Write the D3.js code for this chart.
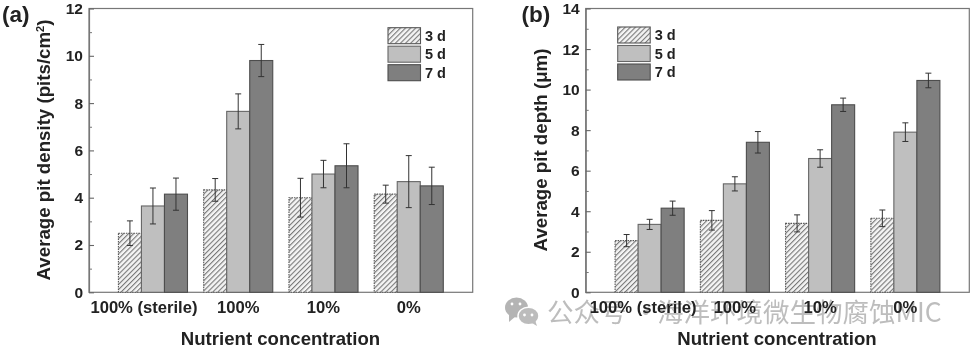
<!DOCTYPE html>
<html>
<head>
<meta charset="utf-8">
<script src="https://cdn.jsdelivr.net/npm/d3@7"></script>
<style>
  html, body { margin: 0; padding: 0; background: #fff; }
  text { font-family: "Liberation Sans", Arial, sans-serif; font-weight: bold; fill: #222; }
</style>
</head>
<body>
<div id="chart"></div>
<script>
// shared categories and series
var categories = ["100% (sterile)", "100%", "10%", "0%"];
var days       = ["3 d", "5 d", "7 d"];

// panel (a) pit density
var density3d    = [2.5, 4.33, 4.0, 4.15];
var density5d    = [3.65, 7.65, 5.0, 4.68];
var density7d    = [4.15, 9.8, 5.35, 4.5];
var densityErr3d = [0.52, 0.48, 0.82, 0.38];
var densityErr5d = [0.76, 0.74, 0.58, 1.1];
var densityErr7d = [0.68, 0.68, 0.93, 0.79];

// panel (b) pit depth
var depth3d    = [2.55, 3.55, 3.4, 3.65];
var depth5d    = [3.35, 5.35, 6.6, 7.9];
var depth7d    = [4.15, 7.4, 9.25, 10.45];
var depthErr3d = [0.3, 0.48, 0.42, 0.41];
var depthErr5d = [0.25, 0.35, 0.43, 0.46];
var depthErr7d = [0.35, 0.53, 0.33, 0.36];

var svgWidth  = 974;
var svgHeight = 350;

var svg = d3.select("#chart")
  .append("svg")
  .attr("width", svgWidth)
  .attr("height", svgHeight)
  .style("display", "block");

var defs = svg.append("defs");

// diagonal hatch for the 3 d bars
var hatch = defs.append("pattern")
  .attr("id", "hatch")
  .attr("width", 3.6)
  .attr("height", 3.6)
  .attr("patternUnits", "userSpaceOnUse")
  .attr("patternTransform", "rotate(45)");
hatch.append("rect").attr("width", 3.6).attr("height", 3.6).attr("fill", "#f4f4f4");
hatch.append("line")
  .attr("x1", 0).attr("y1", 0).attr("x2", 0).attr("y2", 3.6)
  .attr("stroke", "#777").attr("stroke-width", 2.2);

// the reference is a slightly soft scan
defs.append("filter").attr("id", "soft")
  .append("feGaussianBlur").attr("stdDeviation", 0.45);

var fills   = ["url(#hatch)", "#bfbfbf", "#7f7f7f"];
var strokes = ["#555", "#666", "#4d4d4d"];

// watermark goes under the panels, the labels sit on top of it
var mark = svg.append("g").attr("filter", "url(#soft)");
mark.append("ellipse").attr("cx", 516.5).attr("cy", 307.5).attr("rx", 11.5).attr("ry", 10).attr("fill", "#b4b4b4");
mark.append("path").attr("d", "M509 314 L509 322 L516 316 Z").attr("fill", "#b4b4b4");
mark.append("ellipse").attr("cx", 528.5).attr("cy", 316).attr("rx", 10.5).attr("ry", 8.8).attr("fill", "#bcbcbc")
  .attr("stroke", "#fff").attr("stroke-width", 1.5);
mark.append("path").attr("d", "M532 323 L537 326 L535 320 Z").attr("fill", "#bcbcbc");
[[512, 304], [520, 304], [524.5, 315], [532, 315]].forEach(function(eye) {
  mark.append("circle").attr("cx", eye[0]).attr("cy", eye[1]).attr("r", 1.4).attr("fill", "#fff");
});
[["公众号 ·", 547], ["海洋环境微生物腐蚀MIC", 657]].forEach(function(part) {
  mark.append("text")
    .attr("x", part[1])
    .attr("y", 322)
    .attr("font-size", 26.5)
    .style("font-family", '"Noto Sans CJK SC", sans-serif')
    .style("font-weight", "normal")
    .style("fill", "#bdbdbd")
    .text(part[0]);
});

function drawPanel(opt) {
  var g = svg.append("g").attr("filter", "url(#soft)");

  var x = d3.scaleLinear().domain([0.25, 4.75]).range([opt.left, opt.right]);
  var y = d3.scaleLinear().domain([0, opt.yMax]).range([292.3, 8.5]);
  var barWidth = x(1.27) - x(1);

  // frame
  g.append("rect")
    .attr("x", opt.left)
    .attr("y", y(opt.yMax))
    .attr("width", opt.right - opt.left)
    .attr("height", y(0) - y(opt.yMax))
    .attr("fill", "#fff")
    .attr("stroke", "#777")
    .attr("stroke-width", 1.2);

  // bars and error bars, one series at a time
  opt.series.forEach(function(values, s) {
    var err = opt.errors[s];
    var barX = function(i) { return x(i + 1) + (s - 1.5) * barWidth; };
    var mid  = function(i) { return barX(i) + barWidth / 2; };

    g.selectAll(".bar" + s)
      .data(values)
      .enter()
        .append("rect")
        .attr("x", function(d, i) { return barX(i); })
        .attr("y", function(d) { return y(d); })
        .attr("width", barWidth)
        .attr("height", function(d) { return y(0) - y(d); })
        .attr("fill", fills[s])
        .attr("stroke", strokes[s])
        .attr("stroke-width", 1.1)
        .attr("stroke-dasharray", s === 0 ? "1.5 1" : null);

    values.forEach(function(d, i) {
      var top = y(d + err[i]);
      var bot = y(d - err[i]);
      var cx  = mid(i);
      g.append("line")
        .attr("x1", cx).attr("x2", cx).attr("y1", top).attr("y2", bot)
        .attr("stroke", "#333").attr("stroke-width", 1);
      [top, bot].forEach(function(cap) {
        g.append("line")
          .attr("x1", cx - 3).attr("x2", cx + 3).attr("y1", cap).attr("y2", cap)
          .attr("stroke", "#333").attr("stroke-width", 1);
      });
    });
  });

  // y axis: ticks point inward, majors labelled
  var axis = d3.axisLeft(y)
    .tickValues(d3.range(0, opt.yMax + 1, 2))
    .tickSizeInner(-5)
    .tickSizeOuter(0)
    .tickPadding(6);
  var axisG = g.append("g")
    .attr("transform", "translate(" + opt.left + ",0)")
    .call(axis);
  axisG.select(".domain").attr("stroke", "#777").attr("stroke-width", 1.2);
  axisG.selectAll(".tick line").attr("stroke", "#666").attr("stroke-width", 1.1);
  axisG.selectAll(".tick text")
    .attr("font-size", 15.5)
    .style("font-family", '"Liberation Sans", Arial, sans-serif');

  var minor = d3.axisLeft(y)
    .tickValues(d3.range(1, opt.yMax, 2))
    .tickSizeInner(-3)
    .tickSizeOuter(0)
    .tickFormat("");
  var minorG = g.append("g")
    .attr("transform", "translate(" + opt.left + ",0)")
    .call(minor);
  minorG.select(".domain").remove();
  minorG.selectAll(".tick line").attr("stroke", "#777");

  // category labels
  g.selectAll(".cat")
    .data(categories)
    .enter()
      .append("text")
      .attr("x", function(d, i) { return x(i + 1) + (i === 0 ? opt.firstCatShift : 0); })
      .attr("y", 313)
      .attr("text-anchor", "middle")
      .attr("font-size", 16.6)
      .text(function(d) { return d; });

  // x title
  g.append("text")
    .attr("x", opt.xTitleX)
    .attr("y", 345)
    .attr("text-anchor", "middle")
    .attr("font-size", 18.6)
    .text("Nutrient concentration");

  // y title
  var yt = g.append("text")
    .attr("transform", "translate(" + opt.yTitleX + ",150) rotate(-90)")
    .attr("text-anchor", "middle")
    .attr("font-size", 18.7);
  yt.append("tspan").text(opt.yTitle);
  if (opt.yTitleSup) {
    yt.append("tspan").attr("font-size", 11).attr("dy", -6).text(opt.yTitleSup);
    yt.append("tspan").attr("dy", 6).text(")");
  }

  // panel letter
  g.append("text")
    .attr("x", opt.letterX)
    .attr("y", 22)
    .attr("font-size", 22.5)
    .text(opt.letter);

  // legend
  days.forEach(function(label, s) {
    var ly = opt.legendY + s * 18.5;
    g.append("rect")
      .attr("x", opt.legendX)
      .attr("y", ly)
      .attr("width", 32.5)
      .attr("height", 16)
      .attr("fill", fills[s])
      .attr("stroke", strokes[s])
      .attr("stroke-width", 1.1);
    g.append("text")
      .attr("x", opt.legendX + 37)
      .attr("y", ly + 13)
      .attr("font-size", 14.5)
      .text(label);
  });
}

drawPanel({
  letter: "(a)", letterX: 2,
  left: 89, right: 472.7, yMax: 12,
  series: [density3d, density5d, density7d],
  errors: [densityErr3d, densityErr5d, densityErr7d],
  yTitle: "Average pit density (pits/cm", yTitleSup: "2", yTitleX: 50,
  xTitleX: 280.5, firstCatShift: -9,
  legendX: 388, legendY: 27.7
});

drawPanel({
  letter: "(b)", letterX: 521.5,
  left: 585.7, right: 969.3, yMax: 14,
  series: [depth3d, depth5d, depth7d],
  errors: [depthErr3d, depthErr5d, depthErr7d],
  yTitle: "Average pit depth (\u03bcm)", yTitleX: 547,
  xTitleX: 777, firstCatShift: -6.5,
  legendX: 617.7, legendY: 27
});
</script>
</body>
</html>
